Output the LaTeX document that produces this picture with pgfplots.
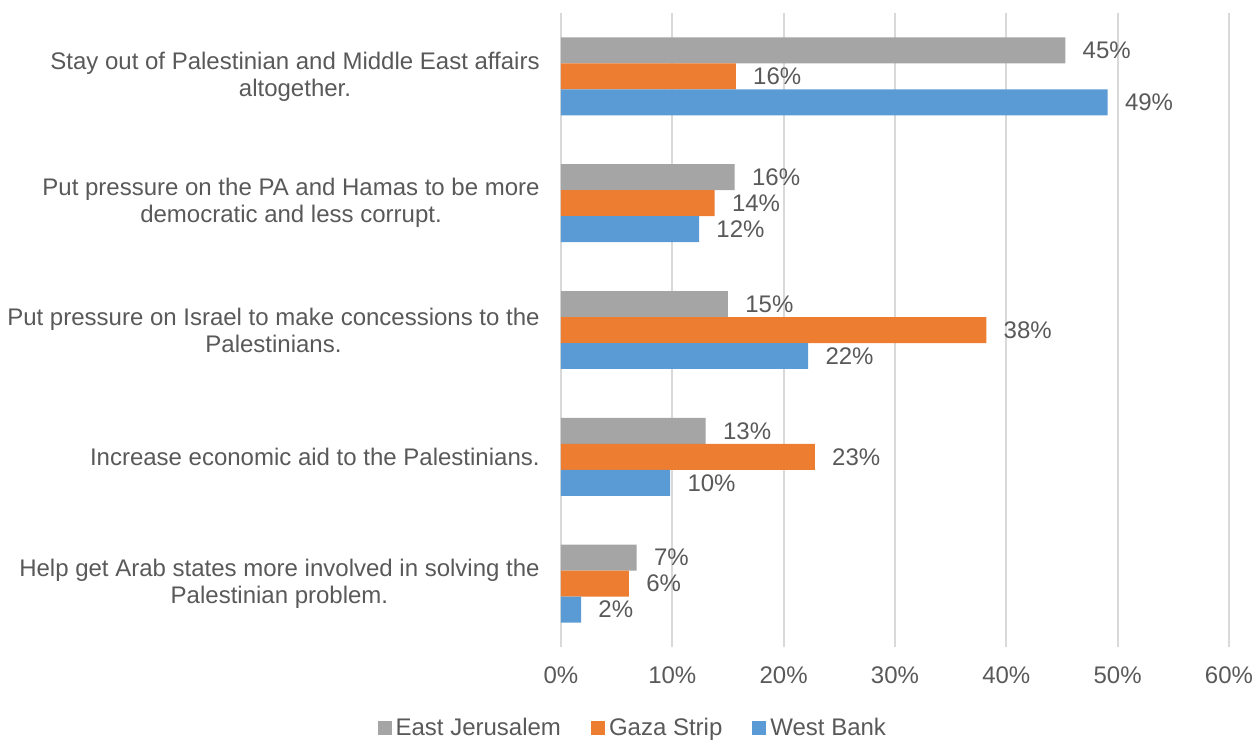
\documentclass[border=0pt]{standalone}
\usepackage{pgfplots}
\pgfplotsset{compat=1.18}
\usepackage{fontspec}
\setmainfont{Liberation Sans}
\definecolor{cEJ}{HTML}{A5A5A5}
\definecolor{cGZ}{HTML}{ED7D31}
\definecolor{cWB}{HTML}{5B9BD5}
\definecolor{txt}{HTML}{595959}
\definecolor{grd}{HTML}{D9D9D9}
\newcommand{\lf}{\fontsize{12}{13.5}\selectfont}
\begin{document}
\begin{tikzpicture}
\useasboundingbox (0,0) rectangle (630pt,370.5pt);
\begin{axis}[
  at={(280.5pt,47pt)}, anchor=south west,
  scale only axis, width=334pt, height=317pt,
  xbar, bar width=0.205, bar shift=0pt,
  xmin=0, xmax=60, ymin=-0.5, ymax=4.5,
  xtick={0,10,20,30,40,50,60},
  xticklabels={0\%,10\%,20\%,30\%,40\%,50\%,60\%},
  ytick={0,1,2,3,4},
  yticklabels={{Help get Arab states more involved in solving the\\Palestinian problem.},
    {Increase economic aid to the Palestinians.},
    {Put pressure on Israel to make concessions to the\\Palestinians.},
    {Put pressure on the PA and Hamas to be more\\democratic and less corrupt.},
    {Stay out of Palestinian and Middle East affairs\\altogether.}},
  yticklabel style={align=center, font=\lf, text=txt, inner sep=0pt, xshift=-10.5pt},
  xticklabel style={font=\lf, text=txt, inner sep=0pt, yshift=-9.5pt},
  major tick length=0pt,
  axis line style={draw=none},
  xmajorgrids, major grid style={grd, line width=1pt},
  point meta=explicit symbolic,
  nodes near coords,
  every node near coord/.append style={font=\lf, text=txt, anchor=west, inner sep=0pt, xshift=8.5pt},
  legend style={at={(0.106,-0.1278)}, anchor=center, draw=none, fill=none, legend columns=3,
    font=\lf, text=txt, inner sep=0pt, nodes={inner sep=0pt},
    /tikz/every odd column/.append style={column sep=2pt},
    /tikz/every even column/.append style={column sep=15pt}},
  legend image code/.code={\draw[#1, draw=none] (0pt,-3.5pt) rectangle (7pt,3.5pt);},
]
\addplot[fill=cEJ, draw=none] coordinates {(45.3,4.205) [45\%] (15.6,3.205) [16\%] (15.0,2.205) [15\%] (13.0,1.205) [13\%] (6.8,0.205) [7\%]};
\addplot[fill=cGZ, draw=none] coordinates {(15.7,4) [16\%] (13.8,3) [14\%] (38.2,2) [38\%] (22.8,1) [23\%] (6.1,0) [6\%]};
\addplot[fill=cWB, draw=none] coordinates {(49.1,3.795) [49\%] (12.4,2.795) [12\%] (22.2,1.795) [22\%] (9.8,0.795) [10\%] (1.8,-0.205) [2\%]};
\legend{East Jerusalem, Gaza Strip, West Bank}
\end{axis}
\end{tikzpicture}
\end{document}
